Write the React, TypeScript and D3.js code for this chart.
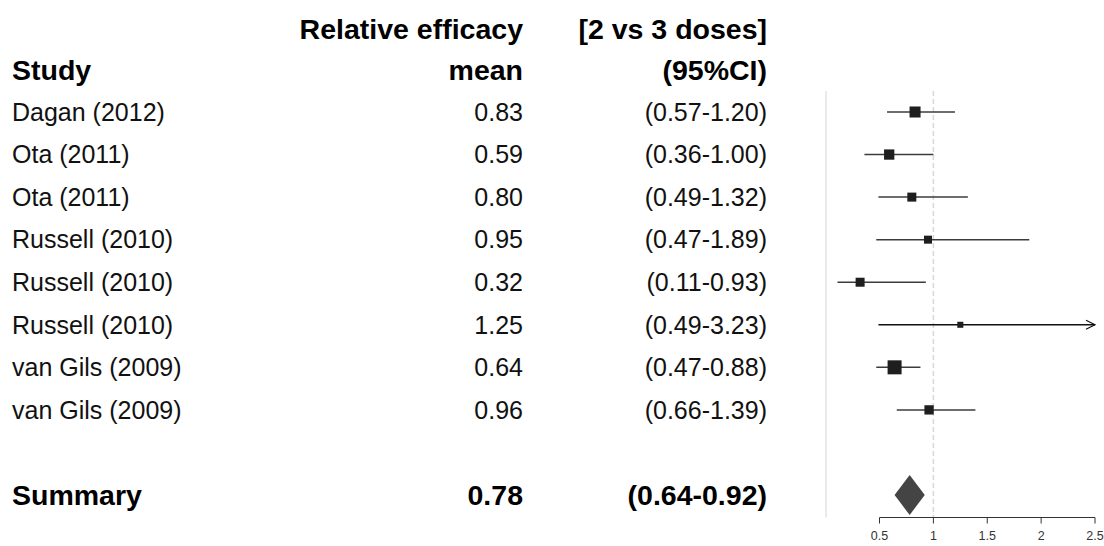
import React from 'react';
import { scaleLinear, scaleSqrt } from 'd3';

const studies = [
  'Dagan (2012)',
  'Ota (2011)',
  'Ota (2011)',
  'Russell (2010)',
  'Russell (2010)',
  'Russell (2010)',
  'van Gils (2009)',
  'van Gils (2009)',
];
const means = [0.83, 0.59, 0.8, 0.95, 0.32, 1.25, 0.64, 0.96];
const lowers = [0.57, 0.36, 0.49, 0.47, 0.11, 0.49, 0.47, 0.66];
const uppers = [1.2, 1.0, 1.32, 1.89, 0.93, 3.23, 0.88, 1.39];
// approximate study weights (%)
const weights = [15.7, 13.7, 10.5, 8.3, 10.5, 4.7, 25.4, 11.2];

const summary = { label: 'Summary', mean: 0.78, lower: 0.64, upper: 0.92 };
const axisTicks = [0.5, 1, 1.5, 2, 2.5];

const W = 1104;
const H = 546;
const FONT = '"Liberation Sans", Arial, sans-serif';

const fmt = (v: number) => v.toFixed(2);

export default function App() {
  const x = scaleLinear().domain([0.5, 2.5]).range([879.5, 1095]);
  // row index -> vertical centre; summary sits at index 9
  const y = scaleLinear().domain([0, 9]).range([112, 495]);
  const box = scaleSqrt().domain([0, 25.4]).range([0, 14]);

  const colStudy = 12;
  const colMean = 523;
  const colCI = 767;
  const axisY = 517.5;
  const plotTop = 91;
  const xMin = x.range()[0];
  const xMax = x.range()[1];

  const regular = { fontFamily: FONT, fontSize: 25, fill: '#111' };
  const bold = { fontFamily: FONT, fontSize: 28.5, fontWeight: 700, fill: '#000' };

  return (
    <svg
      width={W}
      height={H}
      style={{ position: 'absolute', left: 0, top: 0, background: '#fff' }}
    >
      {/* header */}
      <text x={colMean} y={29} dy="0.35em" textAnchor="end" style={bold}>
        Relative efficacy
      </text>
      <text x={colCI} y={29} dy="0.35em" textAnchor="end" style={bold}>
        [2 vs 3 doses]
      </text>
      <text x={colStudy} y={70.5} dy="0.35em" textAnchor="start" style={bold}>
        Study
      </text>
      <text x={colMean} y={70.5} dy="0.35em" textAnchor="end" style={bold}>
        mean
      </text>
      <text x={colCI} y={70.5} dy="0.35em" textAnchor="end" style={bold}>
        (95%CI)
      </text>

      {/* table rows */}
      {studies.map((s, i) => (
        <g key={i}>
          <text x={colStudy} y={y(i)} dy="0.35em" style={regular}>
            {s}
          </text>
          <text x={colMean} y={y(i)} dy="0.35em" textAnchor="end" style={regular}>
            {fmt(means[i])}
          </text>
          <text x={colCI} y={y(i)} dy="0.35em" textAnchor="end" style={regular}>
            ({fmt(lowers[i])}-{fmt(uppers[i])})
          </text>
        </g>
      ))}
      <text x={colStudy} y={y(9)} dy="0.35em" style={bold}>
        {summary.label}
      </text>
      <text x={colMean} y={y(9)} dy="0.35em" textAnchor="end" style={bold}>
        {fmt(summary.mean)}
      </text>
      <text x={colCI} y={y(9)} dy="0.35em" textAnchor="end" style={bold}>
        ({fmt(summary.lower)}-{fmt(summary.upper)})
      </text>

      {/* left border of plot panel */}
      <line x1={826} x2={826} y1={plotTop} y2={axisY} stroke="#e3e3e3" strokeWidth={1.5} />
      {/* line of no effect */}
      <line
        x1={x(1)}
        x2={x(1)}
        y1={plotTop}
        y2={axisY}
        stroke="#d6d6d6"
        strokeWidth={1.5}
        strokeDasharray="5,3"
      />

      {/* study CIs and boxes */}
      {studies.map((_, i) => {
        const cy = y(i);
        const clipped = uppers[i] > 2.5;
        const x2 = clipped ? xMax : x(uppers[i]);
        const s = box(weights[i]);
        return (
          <g key={i}>
            <line
              x1={x(lowers[i])}
              x2={x2}
              y1={cy}
              y2={cy}
              stroke={clipped ? '#111' : '#3c3c3c'}
              strokeWidth={1.5}
            />
            {clipped && (
              <polyline
                points={`${xMax - 9},${cy - 4.5} ${xMax},${cy} ${xMax - 9},${cy + 4.5}`}
                fill="none"
                stroke="#111"
                strokeWidth={1.2}
              />
            )}
            <rect
              x={x(means[i]) - s / 2}
              y={cy - s / 2}
              width={s}
              height={s}
              fill="#1e1e1e"
            />
          </g>
        );
      })}

      {/* summary diamond */}
      <polygon
        points={[
          [x(summary.lower), y(9)],
          [x(summary.mean), y(9) - 20],
          [x(summary.upper), y(9)],
          [x(summary.mean), y(9) + 20],
        ]
          .map((p) => p.join(','))
          .join(' ')}
        fill="#444"
      />

      {/* x axis */}
      <line x1={xMin} x2={xMax} y1={axisY} y2={axisY} stroke="#333" strokeWidth={1} />
      {axisTicks.map((t) => (
        <g key={t}>
          <line x1={x(t)} x2={x(t)} y1={axisY} y2={axisY + 6} stroke="#333" strokeWidth={1} />
          <text
            x={x(t)}
            y={axisY + 18}
            dy="0.35em"
            textAnchor="middle"
            style={{ fontFamily: FONT, fontSize: 12.5, fill: '#333' }}
          >
            {t}
          </text>
        </g>
      ))}
    </svg>
  );
}
